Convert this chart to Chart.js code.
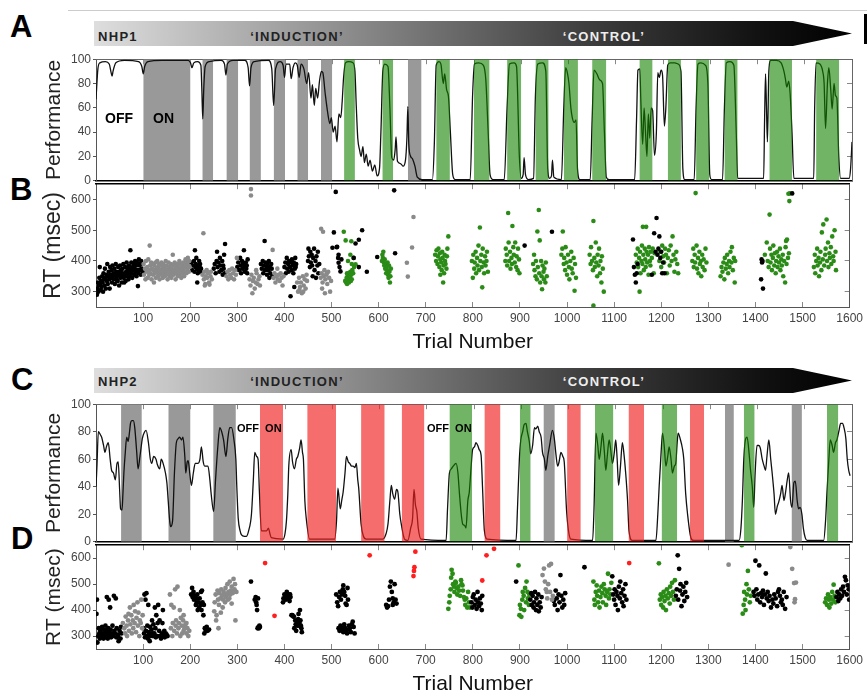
<!DOCTYPE html>
<html>
<head>
<meta charset="utf-8">
<script src="https://cdn.jsdelivr.net/npm/chart.js@4.4.1/dist/chart.umd.min.js"></script>
<style>
html, body { margin: 0; padding: 0; background: #fff; overflow: hidden; }
body { width: 867px; height: 690px; position: relative; font-family: "Liberation Sans", Arial, sans-serif; }
.panel { position: absolute; left: 0; width: 867px; }
.letter { position: absolute; font-weight: bold; color: #000; line-height: 1; font-size: 31px; }
.banner { position: absolute; left: 94px; width: 758px; height: 25px;
  background: linear-gradient(to right, #dedede 0%, #a8a8a8 22%, #777 42%, #3e3e3e 65%, #111 88%, #000 100%);
  clip-path: polygon(0 0, 699px 0, 758px 12.5px, 699px 25px, 0 25px); }
.banner span { position: absolute; font-weight: bold; font-size: 13px; line-height: 13px; letter-spacing: 1.3px; white-space: nowrap; }
.tag { position: absolute; font-weight: bold; color: #000; white-space: nowrap; }
</style>
</head>
<body>
<div style="position:absolute;left:68px;top:10px;width:799px;height:1px;background:#ccc"></div>
<div style="position:absolute;left:864px;top:14px;width:3px;height:30px;background:#000"></div>

<div class="letter" style="left:10px;top:11px">A</div>
<div class="letter" style="left:10px;top:174px">B</div>
<div class="letter" style="left:11px;top:364px">C</div>
<div class="letter" style="left:11px;top:523px">D</div>

<div class="banner" style="top:21px">
  <span style="left:4px;top:9px;color:#222">NHP1</span>
  <span style="left:203px;top:9px;color:#222;transform:translateX(-50%)">‘INDUCTION’</span>
  <span style="left:510px;top:9px;color:#eee;transform:translateX(-50%)">‘CONTROL’</span>
</div>
<div class="banner" style="top:368px">
  <span style="left:4px;top:7px;color:#222">NHP2</span>
  <span style="left:203px;top:7px;color:#222;transform:translateX(-50%)">‘INDUCTION’</span>
  <span style="left:510px;top:7px;color:#eee;transform:translateX(-50%)">‘CONTROL’</span>
</div>

<div class="panel" style="top:50px;height:140px"><canvas id="perfA" width="867" height="140"></canvas></div>
<div class="panel" style="top:175px;height:182px"><canvas id="rtB" width="867" height="182"></canvas></div>
<div class="panel" style="top:395px;height:156px"><canvas id="perfC" width="867" height="156"></canvas></div>
<div class="panel" style="top:536px;height:161px"><canvas id="rtD" width="867" height="161"></canvas></div>

<div class="tag" style="left:105px;top:110px;font-size:14px">OFF</div>
<div class="tag" style="left:153px;top:110px;font-size:14px">ON</div>
<div class="tag" style="left:237px;top:422px;font-size:11px">OFF&nbsp;&nbsp;ON</div>
<div class="tag" style="left:427px;top:422px;font-size:11px">OFF&nbsp;&nbsp;ON</div>

<script>
// tick labels
const trialTicks = [100, 200, 300, 400, 500, 600, 700, 800, 900, 1000, 1100, 1200, 1300, 1400, 1500, 1600];
const perfTicks = [0, 20, 40, 60, 80, 100];
const rtTicks = [300, 400, 500, 600];

// stimulation blocks, [first trial, last trial]
const grayBandsA = [[100,200],[225,248],[276,301],[325,349],[376,400],[426,449],[476,500],[660,689]];
const greenBandsA = [[525,548],[606,629],[720,749],[800,833],[870,900],[930,958],[990,1020],[1050,1080],[1150,1178],[1210,1238],[1270,1298],[1330,1358],[1425,1473],[1524,1573]];
const grayBandsC = [[53,97],[153,200],[248,296],[947,971],[1331,1350],[1472,1494]];
const redBandsC = [[347,396],[447,508],[561,611],[647,695],[822,856],[997,1026],[1127,1160],[1257,1287]];
const greenBandsC = [[748,796],[897,920],[1056,1095],[1197,1230],[1371,1394],[1547,1571]];

// performance, [trial, %]
const perfCurveA = [[0,67],[4,92],[8,97],[20,98],[28,96],[32,89],[34,86],[36,90],[42,97],[60,99],[90,98],[97,94],[100,88],[103,94],[110,98],[140,99],[195,99],[200,97],[203,93],[207,97],[215,98],[222,95],[224,75],[226,51],[228,75],[231,94],[240,98],[265,99],[272,96],[275,87],[278,96],[290,99],[315,99],[322,93],[325,78],[328,93],[335,98],[365,99],[372,92],[376,62],[380,92],[390,98],[396,95],[399,85],[402,96],[410,96],[413,84],[417,93],[422,97],[426,95],[430,85],[434,96],[440,92],[446,80],[450,89],[455,68],[458,79],[462,62],[465,76],[469,68],[473,82],[477,90],[480,89],[485,72],[490,57],[495,47],[498,52],[502,40],[506,45],[510,32],[514,55],[518,52],[521,65],[524,85],[528,97],[535,98],[544,97],[548,90],[551,60],[554,35],[558,25],[561,20],[565,28],[568,15],[572,22],[576,12],[580,17],[585,8],[590,13],[595,4],[600,10],[603,40],[607,90],[611,96],[618,94],[622,60],[626,19],[630,17],[633,25],[635,36],[638,16],[645,14],[650,12],[655,17],[658,35],[660,61],[662,30],[666,20],[670,18],[675,12],[680,3],[690,1],[712,1],[716,30],[720,95],[726,98],[730,96],[735,80],[738,88],[742,75],[746,69],[750,40],[755,5],[760,1],[792,1],[797,70],[801,96],[810,97],[820,95],[825,83],[830,40],[834,5],[840,1],[864,1],[870,60],[875,96],[885,97],[890,94],[896,20],[900,2],[904,5],[906,19],[909,5],[915,1],[926,2],[930,70],[935,96],[945,97],[952,90],[956,10],[960,2],[964,4],[966,17],[969,3],[985,1],[990,60],[994,93],[998,88],[1001,80],[1005,60],[1008,52],[1012,48],[1016,50],[1019,10],[1024,1],[1046,1],[1050,50],[1054,91],[1060,88],[1066,83],[1072,80],[1076,40],[1080,3],[1086,1],[1140,1],[1144,50],[1147,91],[1151,92],[1153,67],[1157,30],[1160,60],[1163,40],[1166,20],[1169,55],[1172,35],[1175,60],[1178,58],[1182,21],[1186,40],[1189,89],[1192,85],[1196,91],[1199,87],[1203,45],[1206,60],[1210,95],[1215,97],[1225,97],[1232,96],[1238,90],[1242,10],[1246,1],[1266,1],[1270,60],[1274,96],[1280,97],[1290,95],[1295,80],[1299,5],[1303,1],[1326,1],[1330,60],[1334,97],[1342,98],[1350,95],[1355,40],[1358,2],[1413,2],[1415,50],[1417,88],[1419,60],[1421,32],[1424,90],[1428,99],[1440,99],[1450,97],[1456,90],[1459,84],[1462,77],[1466,82],[1469,72],[1473,40],[1477,2],[1519,2],[1521,60],[1524,97],[1532,96],[1538,90],[1541,80],[1544,43],[1548,80],[1551,93],[1555,75],[1558,59],[1562,80],[1565,70],[1568,68],[1572,20],[1576,2],[1594,2],[1597,10],[1600,32]];

const perfCurveC = [[0,40],[2,55],[5,80],[9,78],[12,76],[16,70],[19,65],[22,69],[26,72],[30,60],[33,52],[37,50],[41,45],[44,56],[47,58],[50,38],[52,24],[55,23],[57,35],[59,50],[62,65],[65,76],[68,73],[71,80],[73,86],[76,88],[79,88],[82,83],[86,66],[89,53],[93,62],[96,70],[98,75],[103,80],[106,81],[111,72],[115,60],[118,57],[122,62],[127,60],[130,56],[135,53],[138,60],[142,57],[147,50],[150,43],[153,29],[156,15],[158,11],[162,15],[166,50],[170,72],[174,75],[177,76],[181,74],[184,76],[188,62],[190,50],[193,58],[195,59],[199,48],[202,41],[206,50],[210,57],[216,57],[220,60],[223,69],[227,58],[230,55],[237,55],[241,45],[244,34],[249,22],[253,45],[258,70],[262,83],[266,80],[270,74],[275,62],[279,75],[283,83],[287,83],[292,74],[296,60],[298,40],[301,17],[305,8],[308,5],[314,4],[318,4],[323,8],[329,20],[333,45],[336,65],[340,62],[343,60],[346,35],[350,8],[356,8],[361,8],[365,10],[368,6],[371,3],[396,2],[400,6],[403,15],[406,35],[408,55],[413,67],[416,58],[420,53],[424,60],[427,62],[431,68],[434,74],[437,65],[439,60],[442,30],[445,17],[452,2],[505,2],[509,15],[512,39],[517,24],[520,30],[523,36],[527,50],[530,62],[534,58],[537,57],[541,55],[544,55],[548,54],[551,57],[554,45],[556,39],[561,13],[566,4],[572,2],[607,2],[614,6],[618,13],[622,30],[625,41],[628,35],[632,31],[636,38],[639,36],[643,20],[646,13],[653,2],[660,1],[666,10],[670,17],[673,38],[676,27],[679,22],[682,10],[688,2],[741,1],[744,24],[748,50],[752,53],[756,55],[762,57],[766,50],[769,36],[773,20],[776,13],[780,12],[783,10],[787,30],[790,36],[794,55],[797,67],[801,69],[804,72],[808,70],[811,67],[815,63],[818,40],[822,8],[828,2],[889,1],[892,24],[896,60],[899,74],[903,80],[906,85],[910,86],[913,80],[917,73],[920,64],[924,70],[928,83],[931,82],[935,84],[938,80],[942,76],[945,65],[949,60],[952,52],[956,62],[960,70],[966,81],[970,75],[973,65],[977,55],[980,58],[984,65],[988,62],[991,58],[996,22],[1000,8],[1005,2],[1051,1],[1054,24],[1058,79],[1062,70],[1065,60],[1069,70],[1072,79],[1076,65],[1079,52],[1082,62],[1086,74],[1089,68],[1093,57],[1097,65],[1100,74],[1103,60],[1106,41],[1110,55],[1114,72],[1117,65],[1121,50],[1125,30],[1128,8],[1135,1],[1185,1],[1189,20],[1192,41],[1196,65],[1199,79],[1203,68],[1206,55],[1210,62],[1213,69],[1217,60],[1220,50],[1224,55],[1227,57],[1230,72],[1232,79],[1237,74],[1241,68],[1244,60],[1248,35],[1252,20],[1259,3],[1265,1],[1361,1],[1365,10],[1368,30],[1371,60],[1375,75],[1378,76],[1382,65],[1385,53],[1389,40],[1392,25],[1395,50],[1399,70],[1403,70],[1406,68],[1410,60],[1414,55],[1417,52],[1420,62],[1424,74],[1428,60],[1431,50],[1435,35],[1438,20],[1442,26],[1445,29],[1449,35],[1452,41],[1456,30],[1459,35],[1463,45],[1466,50],[1470,30],[1473,25],[1477,43],[1480,44],[1484,30],[1487,24],[1490,25],[1494,20],[1497,10],[1501,3],[1505,1],[1540,1],[1544,15],[1547,36],[1551,60],[1554,74],[1558,70],[1561,65],[1565,72],[1568,74],[1572,80],[1576,86],[1580,86],[1583,83],[1587,75],[1590,60],[1593,52],[1596,48]];

// reaction times, [trial, msec]
const rtBlackB = [[2,290],[3,310],[4,330],[5,300],[6,320],[7,345],[8,380],[9,325],[10,305],[11,335],[12,315],[13,350],[14,330],[15,300],[16,360],[17,340],[18,320],[19,375],[20,345],[21,310],[22,355],[23,335],[24,390],[25,325],[26,350],[27,365],[28,340],[29,310],[30,380],[31,355],[32,345],[33,370],[34,330],[35,385],[36,350],[37,360],[38,340],[39,375],[40,325],[41,355],[42,390],[43,365],[44,345],[45,335],[46,335],[47,380],[48,355],[49,320],[50,365],[51,385],[52,345],[53,370],[54,355],[55,330],[56,375],[57,360],[58,390],[59,345],[60,330],[61,355],[62,380],[63,335],[64,365],[65,395],[66,350],[67,375],[68,360],[69,340],[70,385],[71,365],[72,350],[73,435],[74,375],[75,395],[76,360],[77,345],[78,380],[79,370],[80,390],[81,355],[82,375],[83,400],[84,365],[85,385],[86,350],[87,395],[88,370],[89,318],[90,360],[91,405],[92,385],[93,370],[94,390],[95,355],[96,400],[97,375],[98,390],[99,365],
  [202,395],[204,370],[206,385],[208,400],[209,365],[210,435],[211,380],[212,390],[213,410],[214,375],[215,330],[216,360],[217,385],[218,370],[219,400],[220,380],[221,390],[222,365],[223,375],
  [250,375],[252,390],[254,360],[256,400],[257,430],[258,380],[260,395],[262,365],[263,410],[264,385],[266,370],[268,400],[269,355],[270,385],[271,375],[272,420],[273,360],[274,455],
  [300,380],[302,395],[304,370],[306,410],[307,385],[308,360],[310,400],[311,375],[312,390],[314,435],[315,380],[316,365],[318,395],[319,375],[320,385],[321,360],[322,405],
  [350,390],[352,375],[354,400],[355,360],[356,385],[358,465],[359,370],[360,395],[362,380],[363,355],[364,390],[366,370],[367,400],[368,345],[369,380],[370,360],[372,390],[373,375],[374,350],
  [400,380],[402,395],[403,360],[405,410],[406,375],[408,390],[409,365],[410,400],[412,380],[413,285],[414,395],[415,370],[416,405],[418,385],[419,360],[420,395],[421,315],[422,375],[423,410],[424,380],[425,390],
  [450,400],[451,440],[452,415],[454,380],[455,430],[456,395],[458,420],[459,385],[460,350],[461,410],[463,440],[464,370],[466,400],[467,345],[468,415],[470,385],[471,430],[472,360],[474,390],
  [502,443],[505,493],[509,625],[511,445],[512,446],[514,410],[515,420],[515,394],[517,380],[519,366],[521,405],
  [547,410],[551,457],[558,469],[558,380],[565,500],[575,365],[597,413],[633,630],[635,425],
  [910,450],[968,495],
  [1140,470],[1142,380],[1144,355],[1146,330],[1148,360],[1150,390],[1180,355],[1185,490],[1188,430],[1190,540],[1192,420],[1194,440],[1196,480],[1198,410],[1200,430],[1202,360],[1204,395],[1207,360],
  [1412,340],[1413,405],[1414,395],[1415,400],[1416,310],[1478,620]];

const rtGrayB = [[101,390],[102,355],[104,375],[105,340],[106,400],[108,365],[109,380],[110,345],[111,405],[112,370],[113,355],[114,450],[115,385],[116,360],[117,395],[118,340],[119,375],[120,390],[121,355],[122,370],[123,330],[124,385],[125,360],[126,395],[127,345],[128,375],[129,365],[130,400],[131,350],[132,380],[133,360],[134,390],[135,340],[136,370],[137,385],[138,355],[139,395],[140,365],[141,375],[142,345],[143,390],[144,360],[145,380],[146,350],[147,370],[148,400],[149,355],[150,385],[151,365],[152,340],[153,375],[154,395],[155,360],[156,380],[157,350],[158,370],[159,390],[160,345],[161,375],[162,360],[163,420],[164,385],[165,355],[166,370],[167,395],[168,365],[169,340],[170,380],[171,360],[172,390],[173,375],[174,350],[175,385],[176,365],[177,400],[178,355],[179,375],[180,390],[181,345],[182,370],[183,385],[184,360],[185,395],[186,375],[187,350],[188,380],[189,365],[190,405],[191,385],[192,360],[193,395],[194,375],[195,410],[196,385],[197,365],[198,400],[199,380],
  [226,355],[228,490],[229,340],[230,365],[231,320],[232,325],[233,350],[235,370],[236,345],[238,360],[240,330],[241,323],[243,350],[244,365],[246,340],
  [277,350],[279,365],[281,340],[283,370],[285,355],[287,345],[289,375],[291,360],[293,340],[295,370],[297,355],[299,410],
  [326,340],[328,320],[329,634],[329,613],[330,355],[332,295],[333,335],[335,345],[337,310],[339,330],[340,370],[341,360],[343,325],[345,340],[347,350],[348,320],
  [375,436],[377,345],[379,360],[381,330],[383,350],[385,375],[386,340],[388,355],[390,335],[392,360],[394,345],[396,320],[398,350],
  [427,330],[429,300],[431,345],[432,305],[433,315],[435,330],[437,295],[439,350],[440,300],[441,320],[443,340],[445,310],[447,355],[448,335],
  [477,345],[478,505],[479,360],[480,310],[481,330],[482,495],[483,350],[485,370],[486,295],[487,340],[489,355],[490,360],[491,325],[493,365],[495,345],[497,300],[499,335],
  [660,394],[662,349],[671,444],[674,543]];

const rtGreenB = [[526,495],[529,335],[530,467],[531,330],[532,345],[533,325],[533,360],[534,355],[535,340],[535,400],[536,360],[537,330],[538,350],[539,345],[540,365],[540,420],[541,335],[542,464],[542,355],[543,340],[543,390],[544,370],[546,360],[547,410],[548,380],[551,389],
  [607,400],[608,420],[609,410],[610,430],[611,395],[612,385],[613,405],[614,375],[615,390],[616,360],[617,380],[618,370],[619,395],[620,355],[621,345],[622,385],[623,365],[624,330],[625,350],[626,375],
  [720,420],[722,400],[723,435],[725,390],[726,415],[727,440],[729,380],[730,425],[731,355],[731,405],[733,395],[734,370],[735,430],[736,410],[737,330],[738,385],[739,360],[740,420],[741,400],[742,390],[744,375],[745,415],[746,440],[748,480],
  [798,400],[800,345],[801,420],[803,375],[804,395],[806,430],[807,360],[809,410],[810,385],[812,450],[813,370],[815,509],[816,400],[818,420],[819,380],[820,314],[821,440],[823,395],[824,360],[826,415],[827,385],[829,400],[830,430],[832,365],
  [869,400],[870,440],[872,420],[873,385],[875,556],[876,460],[877,400],[879,430],[880,375],[882,410],[883,390],[884,514],[886,445],[887,420],[889,395],[890,460],[892,380],[893,415],[895,370],[896,440],[898,405],[899,360],
  [928,390],[930,420],[931,370],[933,350],[934,400],[936,340],[937,496],[938,380],[940,566],[941,360],[942,467],[943,330],[945,400],[946,350],[947,308],[948,385],[950,365],[951,340],[952,375],[954,330],[955,395],[957,350],
  [988,420],[990,440],[991,496],[993,390],[994,410],[996,370],[997,445],[999,395],[1000,355],[1002,420],[1004,380],[1005,340],[1007,400],[1009,430],[1010,375],[1012,360],[1014,410],[1016,303],[1017,390],[1019,345],
  [1048,420],[1050,390],[1051,445],[1053,400],[1055,370],[1056,530],[1056,255],[1058,410],[1059,380],[1061,460],[1062,395],[1064,350],[1065,420],[1067,385],[1068,440],[1070,360],[1071,400],[1073,330],[1074,415],[1076,375],[1078,300],
  [1146,420],[1148,395],[1150,440],[1151,380],[1153,410],[1154,300],[1155,430],[1156,360],[1158,400],[1159,450],[1160,390],[1161,511],[1162,420],[1163,370],[1165,440],[1166,405],[1167,380],[1168,511],[1169,430],[1170,395],[1172,420],[1173,355],[1174,445],[1176,400],[1177,385],[1178,430],[1180,410],[1182,440],[1184,360],[1186,425],
  [1196,400],[1198,430],[1200,380],[1202,450],[1204,415],[1206,395],[1208,440],[1210,420],[1212,360],[1214,410],[1216,435],[1218,385],[1220,450],[1222,400],[1224,480],[1226,420],[1228,365],[1230,405],[1232,430],[1234,390],[1236,360],
  [1266,400],[1268,440],[1269,380],[1271,420],[1272,395],[1273,621],[1275,450],[1276,375],[1278,410],[1279,360],[1281,430],[1282,390],[1284,400],[1285,350],[1287,420],[1288,380],[1290,405],[1292,370],[1294,440],[1296,395],
  [1326,350],[1328,380],[1330,365],[1332,395],[1334,340],[1335,410],[1337,375],[1339,390],[1340,420],[1342,360],[1344,400],[1345,380],[1347,430],[1349,395],[1350,445],[1352,370],[1354,410],[1356,330],[1357,400],
  [1420,420],[1424,460],[1426,400],[1428,380],[1430,551],[1431,440],[1432,395],[1434,420],[1435,370],[1437,410],[1438,450],[1440,385],[1441,425],[1443,360],[1444,400],[1446,430],[1447,380],[1449,415],[1450,395],[1452,440],[1453,370],[1455,405],[1456,385],[1458,420],[1459,350],[1461,400],[1463,330],[1464,445],[1465,465],[1466,390],[1467,470],[1469,410],[1470,619],[1471,425],[1472,595],[1473,620],
  [1524,380],[1526,420],[1527,360],[1529,400],[1531,440],[1532,385],[1534,410],[1535,350],[1537,395],[1538,430],[1540,370],[1541,493],[1543,405],[1544,519],[1546,385],[1548,420],[1549,440],[1551,535],[1552,400],[1554,460],[1555,380],[1557,425],[1558,410],[1560,445],[1561,390],[1563,480],[1565,415],[1566,400],[1568,500],[1570,430],[1571,370]];

const rtBlackD = [[1,385],[2,440],[3,275],[5,300],[6,330],[7,310],[8,290],[9,320],[10,305],[12,295],[13,335],[14,310],[15,300],[16,290],[17,325],[18,310],[19,300],[20,340],[21,295],[22,320],[23,450],[24,305],[25,290],[26,330],[27,440],[28,315],[29,300],[30,410],[31,325],[32,295],[34,310],[35,340],[36,300],[38,455],[39,320],[40,310],[42,445],[43,295],[44,330],[46,305],[47,300],[48,280],[50,320],[52,290],[53,335],[54,310],
  [101,330],[102,310],[103,460],[104,295],[105,440],[106,320],[107,465],[108,300],[109,340],[110,290],[111,420],[112,315],[113,305],[114,280],[115,335],[116,300],[118,325],[119,360],[120,310],[121,300],[122,345],[124,310],[125,410],[126,330],[127,295],[128,380],[130,300],[131,350],[132,420],[134,320],[135,360],[136,300],[138,290],[140,310],[141,350],[142,400],[144,300],[145,320],[146,295],[148,310],[150,305],[152,300],
  [202,460],[204,485],[205,450],[207,470],[208,440],[210,455],[212,420],[213,445],[214,430],[215,460],[216,400],[218,430],[219,410],[220,445],[222,420],[223,470],[224,400],[225,475],[226,430],[228,380],[229,420],[230,310],[231,330],[233,320],[235,335],[237,320],[240,325],
  [329,510],[337,440],[339,450],[340,430],[341,420],[342,400],[343,330],[344,445],[345,335],[346,330],[347,340],[348,335],
  [397,430],[398,445],[400,460],[402,450],[403,440],[405,470],[406,455],[408,445],[410,460],[411,435],[412,460],[413,450],[415,380],[417,380],[419,375],[420,375],[421,330],[423,360],[424,345],[425,320],[427,340],[428,355],[429,365],[430,385],[431,340],[432,350],[433,400],[434,360],[435,340],[436,330],[437,315],
  [510,460],[512,430],[514,415],[515,330],[516,450],[517,320],[518,470],[519,340],[520,440],[521,325],[522,460],[523,330],[524,480],[525,495],[525,315],[527,470],[527,345],[529,455],[529,330],[530,425],[531,320],[532,420],[533,310],[534,485],[535,440],[535,325],[537,340],[539,330],[541,315],[543,345],[545,355],[547,335],[549,310],
  [616,420],[618,410],[620,415],[622,440],[624,490],[626,510],[628,470],[630,445],[630,420],[632,430],[634,500],[636,440],[638,425],
  [797,430],[799,410],[800,450],[802,460],[804,420],[806,440],[808,405],[810,470],[811,430],[813,415],[815,445],[817,425],[819,400],[820,455],[892,510],
  [922,440],[924,465],[925,420],[927,455],[929,410],[930,430],[932,470],[934,400],[935,445],[937,420],[939,460],[940,395],[942,430],[944,410],[946,450],
  [972,435],[974,420],[976,475],[978,445],[980,400],[982,460],[984,430],[986,535],[988,455],[990,410],[992,440],[994,420],[996,465],[1037,565],
  [1096,530],[1098,460],[1100,440],[1101,480],[1103,420],[1105,470],[1107,455],[1108,400],[1110,490],[1112,445],[1113,510],[1115,465],[1117,430],[1119,480],[1120,415],[1122,455],[1124,500],[1126,440],
  [1231,455],[1233,480],[1235,611],[1236,440],[1238,559],[1240,475],[1241,500],[1243,415],[1245,460],[1247,490],[1249,435],[1251,470],[1253,505],[1255,450],
  [1396,470],[1398,455],[1400,590],[1402,480],[1404,440],[1406,460],[1408,572],[1410,430],[1412,465],[1414,450],[1416,475],[1418,420],[1420,460],[1422,541],[1424,445],[1426,470],[1428,435],[1430,455],[1433,410],[1436,440],[1438,425],[1440,460],[1443,445],[1446,415],[1448,470],[1450,480],[1452,455],[1454,430],[1456,440],[1458,420],[1460,470],[1463,405],[1466,450],
  [1572,450],[1574,470],[1576,435],[1578,460],[1580,445],[1582,480],[1584,455],[1586,490],[1588,470],[1590,528],[1592,515],[1594,460],[1596,495],[1598,480],[1599,440]];

const rtGrayD = [[57,350],[60,330],[62,310],[63,375],[65,340],[66,300],[68,360],[69,385],[70,320],[72,410],[73,345],[75,380],[76,310],[78,360],[79,330],[80,420],[82,350],[83,395],[85,315],[86,370],[88,430],[89,340],[90,390],[92,300],[93,360],[95,350],[96,440],[98,330],[99,380],
  [157,460],[159,330],[160,420],[162,300],[163,350],[165,410],[166,320],[168,480],[169,340],[170,360],[172,310],[173,490],[175,330],[176,350],[178,400],[179,300],[180,370],[182,340],[183,310],[185,360],[186,320],[186,380],[188,330],[190,345],[192,310],[192,350],[194,330],[196,300],[198,320],
  [251,395],[252,430],[254,460],[255,360],[256,380],[258,475],[259,440],[260,330],[261,420],[262,465],[264,445],[265,390],[266,480],[268,455],[269,410],[270,440],[271,470],[272,460],[274,430],[275,485],[276,450],[278,460],[279,500],[280,440],[281,470],[283,445],[284,510],[285,460],[286,475],[288,490],[288,425],[290,465],[292,520],[294,480],[295,500],[296,360],[298,470],
  [948,535],[951,560],[953,510],[955,480],[957,470],[958,445],[960,500],[962,572],[964,470],[966,578],[968,440],[970,455],
  [1343,575],[1474,643],[1478,559],[1482,504],[1483,430],[1484,442],[1486,506]];

const rtGreenD = [[748,405],[750,430],[751,455],[753,480],[754,525],[755,555],[757,540],[758,500],[760,490],[761,470],[763,510],[764,505],[766,485],[767,460],[769,490],[771,475],[773,455],[775,515],[776,500],[778,495],[779,475],[781,450],[783,440],[784,420],[786,445],[788,410],[790,470],[792,430],[794,410],
  [897,572],[899,380],[900,420],[902,405],[903,374],[905,440],[906,470],[908,455],[909,400],[911,485],[913,430],[914,510],[916,470],[917,445],[919,420],[920,460],
  [1056,510],[1058,440],[1059,420],[1061,470],[1063,495],[1064,455],[1066,430],[1068,475],[1069,410],[1071,450],[1073,490],[1075,465],[1076,430],[1078,500],[1080,480],[1082,455],[1083,420],[1085,470],[1087,540],[1089,445],[1090,480],[1092,460],[1094,505],
  [1195,580],[1197,440],[1199,460],[1200,420],[1202,450],[1204,410],[1205,470],[1207,435],[1209,455],[1210,400],[1212,480],[1214,445],[1216,465],[1218,425],[1219,490],[1221,455],[1223,505],[1225,470],[1227,440],[1229,515],
  [1371,650],[1373,386],[1375,420],[1376,470],[1378,440],[1379,400],[1381,500],[1382,460],[1384,551],[1386,480],[1388,430],[1390,455],
  [1548,430],[1550,445],[1552,420],[1554,460],[1556,440],[1557,410],[1559,450],[1561,425],[1563,470],[1565,440],[1566,498],[1568,455],[1570,430]];

const rtRedD = [[359,581],[379,378],[581,611],[674,531],[675,551],[676,565],[678,625],[820,514],[829,611],[845,636],[1132,581]];

Chart.defaults.font.family = '"Liberation Sans", Arial, sans-serif';
Chart.defaults.animation = false;

const BAND_GRAY = '#999999';
const BAND_GREEN = 'rgba(20,130,0,0.6)';
const BAND_RED = 'rgba(240,30,30,0.65)';

function toXY(pairs) {
    return pairs.map(p => ({ x: p[0], y: p[1] }));
}

function bandSets(list, color, order) {
    return list.map(b => ({
        data: [{ x: b[0], y: 100 }, { x: b[1], y: 100 }],
        fill: 'origin',
        backgroundColor: color,
        borderWidth: 0,
        pointRadius: 0,
        order: order
    }));
}

// frame edges with short inward ticks, no labels; weight -1 keeps them next to the plot
function frameAxis(position, min, max, tickList, border) {
    const horizontal = position === 'top' || position === 'bottom';
    return {
        type: 'linear', position: position, min: min, max: max, weight: -1,
        afterBuildTicks: s => { s.ticks = tickList.map(v => ({ value: v })); },
        afterFit: s => { if (horizontal) s.height = 0; else s.width = 0; },
        ticks: { display: false },
        grid: { display: true, drawOnChartArea: false, drawTicks: true, tickLength: -5, color: '#888', lineWidth: 1 },
        border: border ? { display: true, color: border.color, width: border.width } : { display: false }
    };
}

function yAxis(min, max, tickList, title, titleSize, axisWidth) {
    return {
        type: 'linear', position: 'left', min: min, max: max,
        afterBuildTicks: s => { s.ticks = tickList.map(v => ({ value: v })); },
        afterFit: s => { s.width = axisWidth; },
        ticks: { color: '#444', font: { size: 12 }, padding: 2, callback: v => v },
        grid: { display: true, drawOnChartArea: false, drawTicks: true, tickLength: 3, color: '#555' },
        border: { display: true, color: '#555', width: 1 },
        title: { display: true, text: title, color: '#222', font: { size: titleSize }, padding: 0 }
    };
}

function perfChart(id, curve, grayBands, greenBands, redBands, padLeft) {
    const datasets = [].concat(
        bandSets(greenBands, BAND_GREEN, 0),
        bandSets(redBands, BAND_RED, 0),
        [{
            data: toXY(curve),
            borderColor: '#111',
            borderWidth: 1.3,
            pointRadius: 0,
            fill: false,
            cubicInterpolationMode: 'monotone',
            order: 1
        }],
        bandSets(grayBands, BAND_GRAY, 2)
    );

    new Chart(document.getElementById(id), {
        type: 'line',
        data: { datasets: datasets },
        options: {
            responsive: false,
            layout: { padding: { left: padLeft, right: 15, top: 8, bottom: 7 } },
            plugins: { legend: { display: false }, tooltip: { enabled: false } },
            scales: {
                x: {
                    type: 'linear', min: 0, max: 1600,
                    ticks: { display: false },
                    grid: { display: false, drawTicks: false },
                    border: { display: true, color: '#000', width: 1.6 },
                    afterFit: s => { s.height = 0; }
                },
                y: yAxis(0, 100, perfTicks, 'Performance', 21, 96 - padLeft),
                xTop: frameAxis('top', 0, 1600, trialTicks, { color: '#666', width: 1 }),
                yRight: frameAxis('right', 0, 100, perfTicks, { color: '#666', width: 1 })
            }
        }
    });
}

function rtChart(id, groups, padLeft, titleSize, radius, padBottom) {
    const datasets = groups.map(g => ({
        data: toXY(g.points),
        backgroundColor: g.color,
        pointRadius: radius,
        pointBorderWidth: 0,
        showLine: false
    }));

    new Chart(document.getElementById(id), {
        type: 'scatter',
        data: { datasets: datasets },
        options: {
            responsive: false,
            layout: { padding: { left: padLeft, right: 15, top: 8, bottom: padBottom } },
            plugins: { legend: { display: false }, tooltip: { enabled: false } },
            scales: {
                x: {
                    type: 'linear', min: 0, max: 1600, weight: 1,
                    afterBuildTicks: s => { s.ticks = trialTicks.map(v => ({ value: v })); },
                    ticks: { color: '#444', font: { size: 12 }, padding: 4, maxRotation: 0, callback: v => v },
                    grid: { display: false, drawTicks: false },
                    border: { display: true, color: '#555', width: 1 },
                    title: { display: true, text: 'Trial Number', color: '#111', font: { size: 21 }, padding: 0 }
                },
                y: yAxis(250, 650, rtTicks, 'RT (msec)', titleSize, 96 - padLeft),
                xTop: frameAxis('top', 0, 1600, trialTicks, { color: '#000', width: 1.6 }),
                xBottomTicks: frameAxis('bottom', 0, 1600, trialTicks, null),
                yRight: frameAxis('right', 250, 650, rtTicks, { color: '#555', width: 1 })
            }
        }
    });
}

perfChart('perfA', perfCurveA, grayBandsA, greenBandsA, [], 42);
rtChart('rtB', [
    { points: rtGrayB, color: '#8a8a8a' },
    { points: rtBlackB, color: '#000' },
    { points: rtGreenB, color: '#2a8c16' }
], 40, 23, 2.3, 2.4);
perfChart('perfC', perfCurveC, grayBandsC, greenBandsC, redBandsC, 42);
rtChart('rtD', [
    { points: rtGrayD, color: '#8a8a8a' },
    { points: rtBlackD, color: '#000' },
    { points: rtGreenD, color: '#2a8c16' },
    { points: rtRedD, color: '#ff1f1f' }
], 42, 21, 2.4, 0.4);
</script>
</body>
</html>
